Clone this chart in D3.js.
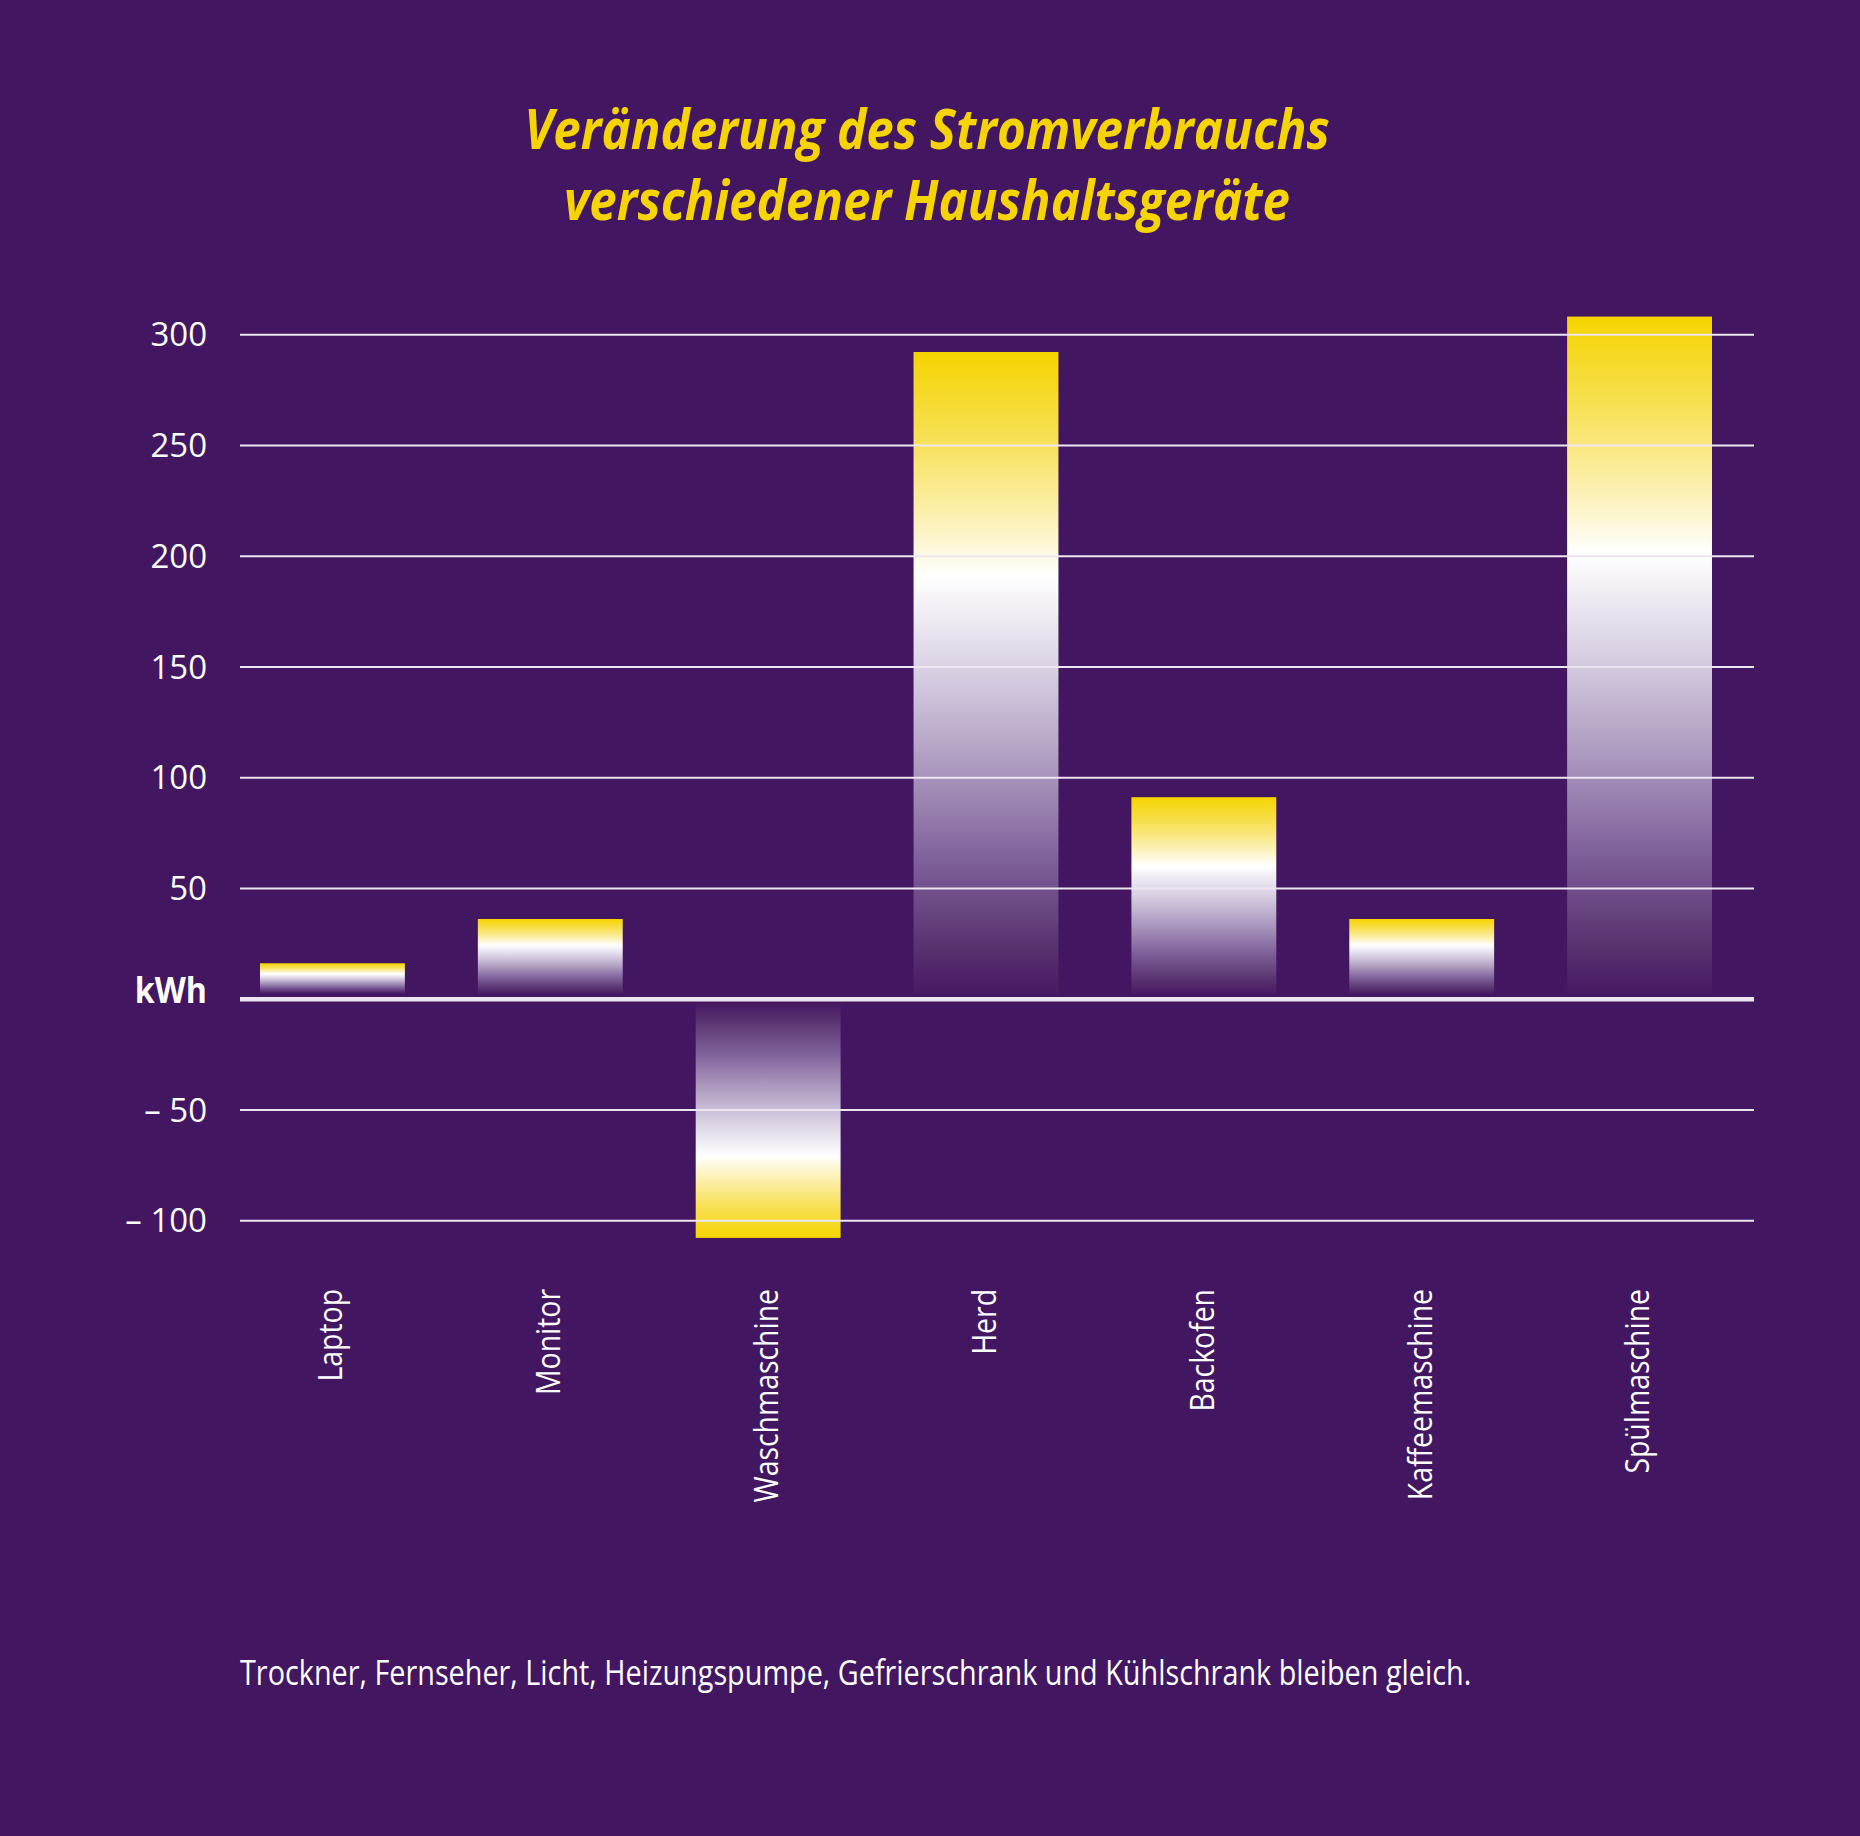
<!DOCTYPE html>
<html>
<head>
<meta charset="utf-8">
<script src="https://cdn.jsdelivr.net/npm/d3@7"></script>
<style>
  html, body { margin: 0; padding: 0; background: #421661; }
  svg { display: block; }
</style>
</head>
<body>
<svg id="chart" width="1860" height="1836"></svg>
<script>
// ---- data ----
const categories = ["Laptop", "Monitor", "Waschmaschine", "Herd", "Backofen", "Kaffeemaschine", "Spülmaschine"];
const values = [16, 36, -108, 292, 91, 36, 308];
const tickValues = [-100, -50, 0, 50, 100, 150, 200, 250, 300];
const tickLabels = ["– 100", "– 50", "kWh", "50", "100", "150", "200", "250", "300"];
const titleLines = ["Veränderung des Stromverbrauchs", "verschiedener Haushaltsgeräte"];
const footnote = "Trockner, Fernseher, Licht, Heizungspumpe, Gefrierschrank und Kühlschrank bleiben gleich.";

// ---- layout ----
const W = 1860, H = 1836;
const bg = "#421661";
const yellow = "#f6d400";
const gridLeft = 240, gridRight = 1754;
const font = "'Open Sans', 'DejaVu Sans', sans-serif";

const svg = d3.select("#chart");
svg.append("rect").attr("width", W).attr("height", H).attr("fill", bg);

const defs = svg.append("defs");
const stopsPos = [
  [0, "#f6d400"], [0.12, "#f7df4c"], [0.24, "#fbeea5"], [0.35, "#ffffff"],
  [0.5, "#d8cfe2"], [0.65, "#ab98be"], [0.8, "#7c5d98"], [0.93, "#58316f"], [1, "#471a63"]
];
function makeGrad(id, flip) {
  const g = defs.append("linearGradient").attr("id", id)
    .attr("x1", 0).attr("x2", 0).attr("y1", flip ? 1 : 0).attr("y2", flip ? 0 : 1);
  stopsPos.forEach(([o, c]) => g.append("stop").attr("offset", o).attr("stop-color", c));
}
makeGrad("gradPos", false);
makeGrad("gradNeg", true);

const y = d3.scaleLinear().domain([-100, 300]).range([1220.2, 334.3]);
const x = d3.scaleBand().domain(categories).range([260, 1712]).paddingInner(0.335).paddingOuter(0);

function condense(sel, f) {
  sel.each(function () {
    const L = this.getComputedTextLength();
    d3.select(this).attr("textLength", L * f).attr("lengthAdjust", "spacingAndGlyphs");
  });
}

// ---- title ----
const title = svg.append("g");
titleLines.forEach((t, i) => {
  title.append("text")
    .attr("x", 927).attr("y", 149 + i * 71)
    .attr("text-anchor", "middle")
    .attr("font-family", font).attr("font-weight", 700).attr("font-style", "italic")
    .attr("font-size", 56).attr("fill", yellow)
    .text(t);
});
condense(title.selectAll("text"), 0.88);

// ---- grid lines ----
const grid = svg.append("g").attr("transform", `translate(${gridRight},0)`)
  .call(d3.axisLeft(y).tickValues(tickValues).tickSize(gridRight - gridLeft).tickFormat(""));
grid.select(".domain").remove();
grid.selectAll(".tick line")
  .attr("stroke", "#ede6f2")
  .attr("stroke-width", d => d === 0 ? 4.5 : 2);

// ---- bars ----
svg.append("g").selectAll("rect").data(categories).join("rect")
  .attr("x", d => x(d))
  .attr("width", x.bandwidth())
  .attr("y", (d, i) => values[i] >= 0 ? y(values[i]) : y(0) + 5)
  .attr("height", (d, i) => values[i] >= 0 ? (y(0) - 5 - y(values[i])) : (y(values[i]) - y(0) - 5))
  .attr("fill", (d, i) => values[i] >= 0 ? "url(#gradPos)" : "url(#gradNeg)");

// keep grid (with the zero line) above bar bottoms only where no bar overlaps: redraw zero line on top
svg.node().appendChild(grid.node());
grid.selectAll(".tick").filter(d => d !== 0).lower();

// ---- y axis labels ----
const yAxis = svg.append("g").attr("transform", "translate(207,0)")
  .call(d3.axisLeft(y).tickValues(tickValues).tickSize(0).tickPadding(0)
    .tickFormat(d => tickLabels[tickValues.indexOf(d)]));
yAxis.select(".domain").remove();
yAxis.selectAll("text")
  .attr("fill", "#ffffff")
  .attr("font-family", font)
  .attr("font-size", d => d === 0 ? 35 : 33)
  .attr("font-weight", d => d === 0 ? 700 : 400)
  .attr("dy", d => d === 0 ? "0.1em" : "0.35em");
yAxis.selectAll("text").filter(d => d === 0).call(condense, 0.92);

// ---- x axis labels ----
const xAxis = svg.append("g").attr("transform", "translate(0,1289)")
  .call(d3.axisBottom(x).tickSize(0).tickPadding(0));
xAxis.select(".domain").remove();
xAxis.selectAll("text")
  .attr("fill", "#ffffff")
  .attr("font-family", font)
  .attr("font-size", 33)
  .attr("text-anchor", "end")
  .attr("transform", "rotate(-90)")
  .attr("x", 0).attr("y", 0).attr("dy", "0.3em");
condense(xAxis.selectAll("text"), 0.86);

// ---- footnote ----
svg.append("text")
  .attr("x", 240).attr("y", 1685)
  .attr("font-family", font).attr("font-size", 34).attr("fill", "#ffffff")
  .text(footnote)
  .call(condense, 0.847);
</script>
</body>
</html>
